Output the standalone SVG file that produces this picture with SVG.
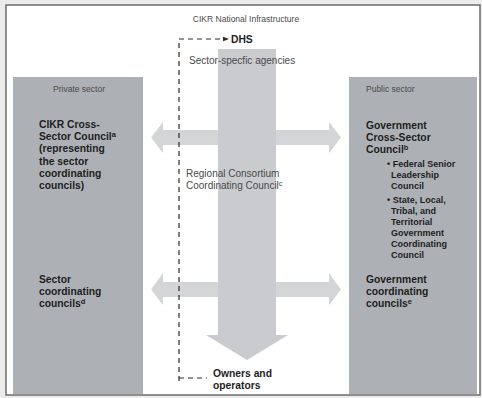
<svg xmlns="http://www.w3.org/2000/svg" width="482" height="398" viewBox="0 0 482 398">
<style>
.lbl{font-family:"Liberation Sans",Arial,sans-serif;fill:#4a4a4a}
.b{font-family:"Liberation Sans",Arial,sans-serif;font-weight:bold;fill:#1e1e1e;font-size:10.3px}
.s{font-family:"Liberation Sans",Arial,sans-serif;font-weight:bold;fill:#1e1e1e;font-size:9px}
.box{fill:#adb1b5}
.ha{fill:#d3d5d7}
.va{fill:#c9cbce}
.dash{fill:none;stroke:#2a2a2a;stroke-width:1.2;stroke-dasharray:5 4}
</style>
<defs>
<marker id="ah" viewBox="0 0 6 6" refX="0" refY="3" markerWidth="6" markerHeight="6" markerUnits="userSpaceOnUse" orient="auto">
<path d="M0,0.8 L6,3 L0,5.2 Z" fill="#2a2a2a"/>
</marker>
</defs>
<rect x="0" y="0" width="482" height="398" fill="#ececec"/>
<rect x="6" y="5" width="474" height="390" fill="#ffffff" stroke="#6b6b6b" stroke-width="1.5"/>
<text class="lbl" x="246" y="22" font-size="8.5" text-anchor="middle">CIKR National Infrastructure</text>

<g id="private-sector">
<rect class="box" x="13" y="77" width="130" height="317"/>
<text class="lbl" x="79" y="92" font-size="8.5" text-anchor="middle">Private sector</text>
</g>
<g id="public-sector">
<rect class="box" x="349" y="77" width="128" height="317"/>
<text class="lbl" x="366" y="92" font-size="8.5">Public sector</text>
</g>

<g id="connectors">
<path id="upper-arrow" class="ha" d="M151,137.5 L163,122 L163,130 L329,130 L329,122 L341,137.5 L329,153 L329,145 L163,145 L163,153 Z"/>
<path id="lower-arrow" class="ha" d="M151,289.5 L163,273 L163,282 L329,282 L329,273 L341,289.5 L329,305 L329,297 L163,297 L163,305 Z"/>
<path id="down-arrow" class="va" d="M218,49 L276,49 L276,335 L288,335 L247,360 L206,335 L218,335 Z"/>
<path id="dhs-link" class="dash" d="M179,381 V39 H223" marker-end="url(#ah)"/>
<path id="owners-link" class="dash" d="M179,378 H207"/>
</g>

<g id="dhs">
<text class="b" x="231" y="43" font-size="10.5">DHS</text>
</g>
<g id="ssa">
<text class="lbl" x="189" y="64" font-size="10">Sector-specfic agencies</text>
</g>
<g id="rccc">
<text class="lbl" x="186" y="177" font-size="10">Regional Consortium</text>
<text class="lbl" x="186" y="189" font-size="10">Coordinating Council<tspan dy="-3.5" font-size="7.5">c</tspan></text>
</g>
<g id="owners">
<text class="b" x="213" y="377">Owners and</text>
<text class="b" x="213" y="389">operators</text>
</g>

<g id="cikr-cross-sector">
<text class="b" x="39" y="128">CIKR Cross-</text>
<text class="b" x="39" y="140">Sector Council<tspan dy="-3.5" font-size="7.5">a</tspan></text>
<text class="b" x="39" y="152">(representing</text>
<text class="b" x="39" y="165">the sector</text>
<text class="b" x="39" y="177">coordinating</text>
<text class="b" x="39" y="189">councils)</text>
</g>
<g id="sector-councils">
<text class="b" x="39" y="283">Sector</text>
<text class="b" x="39" y="295">coordinating</text>
<text class="b" x="39" y="307">councils<tspan dy="-3.5" font-size="7.5">d</tspan></text>
</g>
<g id="gov-cross-sector">
<text class="b" x="366" y="129">Government</text>
<text class="b" x="366" y="141">Cross-Sector</text>
<text class="b" x="366" y="153">Council<tspan dy="-3" font-size="7.5">b</tspan></text>
<text class="s" x="387" y="167">• Federal Senior</text>
<text class="s" x="391" y="178">Leadership</text>
<text class="s" x="391" y="189">Council</text>
<text class="s" x="387" y="203">• State, Local,</text>
<text class="s" x="391" y="214">Tribal, and</text>
<text class="s" x="391" y="225">Territorial</text>
<text class="s" x="391" y="236">Government</text>
<text class="s" x="391" y="247">Coordinating</text>
<text class="s" x="391" y="258">Council</text>
</g>
<g id="gov-councils">
<text class="b" x="366" y="283">Government</text>
<text class="b" x="366" y="295">coordinating</text>
<text class="b" x="366" y="307">councils<tspan dy="-3.5" font-size="7.5">e</tspan></text>
</g>
</svg>
